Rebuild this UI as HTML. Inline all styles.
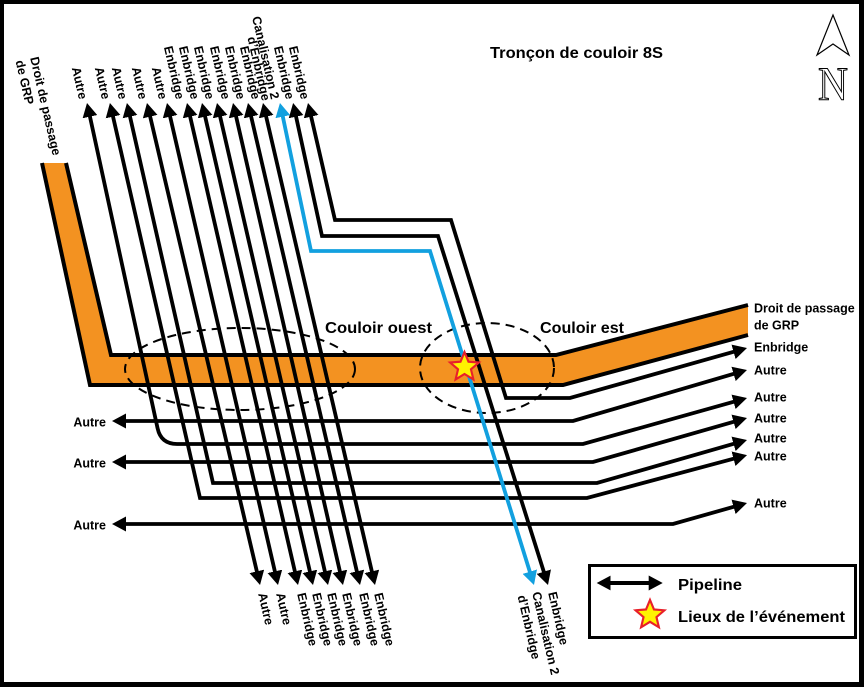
<!DOCTYPE html>
<html>
<head>
<meta charset="utf-8">
<style>
  html, body { margin: 0; padding: 0; background: #000; }
  svg { display: block; }
  text { font-family: "Liberation Sans", "DejaVu Sans", sans-serif; font-weight: bold; fill: #000; }
  .lbl { font-size: 12.5px; }
</style>
</head>
<body>
<svg width="864" height="687" viewBox="0 0 864 687" xmlns="http://www.w3.org/2000/svg">
  <defs>
    <marker id="ah" viewBox="0 -7.5 14 15" refX="6" refY="0" markerWidth="14" markerHeight="15" markerUnits="userSpaceOnUse" orient="auto-start-reverse">
      <path d="M0,-7.5 L14,0 L0,7.5 z" fill="#000"/>
    </marker>
    <marker id="ahb" viewBox="0 -7.5 14 15" refX="6" refY="0" markerWidth="14" markerHeight="15" markerUnits="userSpaceOnUse" orient="auto-start-reverse">
      <path d="M0,-7.5 L14,0 L0,7.5 z" fill="#12A0DF"/>
    </marker>
  </defs>

  <!-- frame -->
  <rect x="0" y="0" width="864" height="687" fill="#000"/>
  <rect x="4" y="4" width="855" height="678" fill="#fff"/>

  <!-- GRP right-of-way band -->
  <polygon points="42,163 66,163 111,355 556,355 748,305 748,335 563,385 90,385" fill="#F39221"/>
  <polyline points="42,163 90,385 563,385 748,335" fill="none" stroke="#000" stroke-width="4"/>
  <polyline points="66,163 111,355 556,355 748,305" fill="none" stroke="#000" stroke-width="4"/>

  <!-- dashed corridors -->
  <ellipse cx="240" cy="369" rx="115" ry="41" fill="none" stroke="#000" stroke-width="2" stroke-dasharray="9 6"/>
  <ellipse cx="487" cy="368" rx="67" ry="45" fill="none" stroke="#000" stroke-width="2" stroke-dasharray="9 6"/>

  <!-- pipelines -->
  <g fill="none" stroke="#000" stroke-width="3.8" stroke-linejoin="miter" marker-start="url(#ah)" marker-end="url(#ah)">
    <path d="M88.7,110.8 L157.6,428.4 Q161,444 177,444 L583,444 L739.3,400.2"/>
    <path d="M111.7,110.8 L200,498 L587,498 L739.3,457.2"/>
    <path d="M128.7,110.8 L213,483 L597,483 L739.3,442.2"/>
    <path d="M148.8,110.8 L258.2,577.2"/>
    <path d="M168.8,110.8 L276.2,577.2"/>
    <path d="M188.8,110.8 L296.2,577.2"/>
    <path d="M203.8,110.8 L311.2,577.2"/>
    <path d="M218.8,110.8 L326.2,577.2"/>
    <path d="M234.8,110.8 L341.2,577.2"/>
    <path d="M249.8,110.8 L358.2,577.2"/>
    <path d="M264.8,110.8 L373.2,577.2"/>
    <path d="M294.8,110.8 L322,236 L438,236 L545.6,577.4"/>
    <path d="M309.8,110.8 L335,220 L451,220 L506,398 L570,398 L739.3,350.2"/>
    <path d="M120,421 L573,421 L739.3,372.2"/>
    <path d="M120,462 L593,462 L739.3,420.2"/>
    <path d="M120,524 L673,524 L739.3,505.2"/>
  </g>
  <path d="M281.6,110.8 L311,251 L430,251 L531.6,577.4" fill="none" stroke="#12A0DF" stroke-width="3.8" marker-start="url(#ahb)" marker-end="url(#ahb)"/>

  <!-- event star -->
  <g transform="translate(464.5,367.2) scale(1.08)">
    <path d="M0,-14 L3.7,-5.1 L13.31,-4.33 L5.99,1.95 L8.23,11.33 L0,6.3 L-8.23,11.33 L-5.99,1.95 L-13.31,-4.33 L-3.7,-5.1 Z" fill="#FFF200" stroke="#E8202A" stroke-width="2"/>
  </g>

  <!-- title & corridor labels -->
  <text x="490" y="58" font-size="16" textLength="173" lengthAdjust="spacingAndGlyphs">Tronçon de couloir 8S</text>
  <text x="325" y="333" font-size="16" textLength="107" lengthAdjust="spacingAndGlyphs">Couloir ouest</text>
  <text x="540" y="333" font-size="16" textLength="84" lengthAdjust="spacingAndGlyphs">Couloir est</text>

  <!-- top-left band label -->
  <text class="lbl" transform="translate(34,57) rotate(77)" dominant-baseline="central">Droit de passage</text>
  <text class="lbl" transform="translate(19.4,60.4) rotate(77)" dominant-baseline="central">de GRP</text>

  <!-- top labels (end-anchored) -->
  <g class="lbl" text-anchor="end" dominant-baseline="central">
    <text transform="translate(83,99) rotate(77)">Autre</text>
    <text transform="translate(106,99) rotate(77)">Autre</text>
    <text transform="translate(123,99) rotate(77)">Autre</text>
    <text transform="translate(143,99) rotate(77)">Autre</text>
    <text transform="translate(163,99) rotate(77)">Autre</text>
    <text transform="translate(180,99) rotate(77)">Enbridge</text>
    <text transform="translate(195,99) rotate(77)">Enbridge</text>
    <text transform="translate(210,99) rotate(77)">Enbridge</text>
    <text transform="translate(226,99) rotate(77)">Enbridge</text>
    <text transform="translate(241,99) rotate(77)">Enbridge</text>
    <text transform="translate(256,99) rotate(77)">Enbridge</text>
    <text transform="translate(275,99) rotate(77)">Canalisation 2</text>
    <text transform="translate(266,100.5) rotate(77)">d’Enbridge</text>
    <text transform="translate(290,99) rotate(77)">Enbridge</text>
    <text transform="translate(305,99) rotate(77)">Enbridge</text>
  </g>

  <!-- bottom labels (start-anchored) -->
  <g class="lbl" dominant-baseline="central">
    <text transform="translate(262,593) rotate(77)">Autre</text>
    <text transform="translate(280,593) rotate(77)">Autre</text>
    <text transform="translate(301,593) rotate(77)">Enbridge</text>
    <text transform="translate(316,593) rotate(77)">Enbridge</text>
    <text transform="translate(331,593) rotate(77)">Enbridge</text>
    <text transform="translate(346,593) rotate(77)">Enbridge</text>
    <text transform="translate(363,593) rotate(77)">Enbridge</text>
    <text transform="translate(378,593) rotate(77)">Enbridge</text>
    <text transform="translate(536,592) rotate(77)">Canalisation 2</text>
    <text transform="translate(521.4,595.4) rotate(77)">d’Enbridge</text>
    <text transform="translate(552,592) rotate(77)">Enbridge</text>
  </g>

  <!-- right labels -->
  <g class="lbl">
    <text x="754" y="312.5">Droit de passage</text>
    <text x="754" y="329.5">de GRP</text>
    <text x="754" y="351.5">Enbridge</text>
    <text x="754" y="374.5">Autre</text>
    <text x="754" y="401.5">Autre</text>
    <text x="754" y="422.5">Autre</text>
    <text x="754" y="442.5">Autre</text>
    <text x="754" y="460.5">Autre</text>
    <text x="754" y="507.5">Autre</text>
  </g>

  <!-- left labels -->
  <g class="lbl" text-anchor="end">
    <text x="106" y="426.5">Autre</text>
    <text x="106" y="467.5">Autre</text>
    <text x="106" y="529.5">Autre</text>
  </g>

  <!-- north arrow -->
  <path d="M833,15 L817,55 L833,44 L849,55 Z" fill="#fff" stroke="#000" stroke-width="1.2" stroke-linejoin="miter"/>
  <text x="818" y="100" font-size="48" stroke="#000" stroke-width="1.1" textLength="30" lengthAdjust="spacingAndGlyphs" style="font-family:'Liberation Serif',serif;font-weight:normal;fill:#fff;">N</text>

  <!-- legend -->
  <rect x="589.5" y="565.5" width="266" height="72" fill="#fff" stroke="#000" stroke-width="3"/>
  <path d="M604.7,583 L654.7,583" stroke="#000" stroke-width="4" fill="none" marker-start="url(#ah)" marker-end="url(#ah)"/>
  <text x="678" y="590" font-size="16" textLength="64" lengthAdjust="spacingAndGlyphs">Pipeline</text>
  <g transform="translate(650,615) scale(1.08)">
    <path d="M0,-14 L3.7,-5.1 L13.31,-4.33 L5.99,1.95 L8.23,11.33 L0,6.3 L-8.23,11.33 L-5.99,1.95 L-13.31,-4.33 L-3.7,-5.1 Z" fill="#FFF200" stroke="#E8202A" stroke-width="2"/>
  </g>
  <text x="678" y="622" font-size="16" textLength="167" lengthAdjust="spacingAndGlyphs">Lieux de l’événement</text>
</svg>
</body>
</html>
